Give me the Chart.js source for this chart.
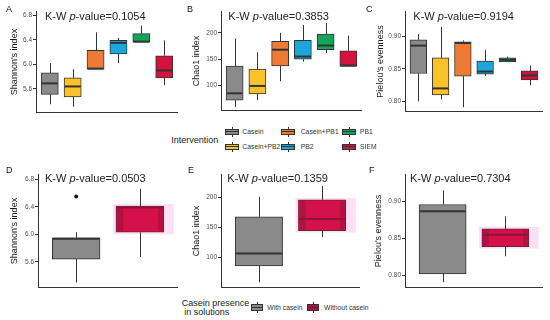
<!DOCTYPE html>
<html>
<head>
<meta charset="utf-8">
<script src="https://cdn.jsdelivr.net/npm/chart.js@4.4.0/dist/chart.umd.min.js"></script>
<style>
body { margin: 0; background: #fff; width: 550px; height: 320px; position: relative; overflow: hidden; font-family: "Liberation Sans", Arial, sans-serif; }
canvas { position: absolute; }
.tag { position: absolute; font-size: 9px; line-height: 10px; color: #111; }
.ttl { position: absolute; font-size: 11px; line-height: 12px; color: #222; white-space: nowrap; }
.leg { position: absolute; font-size: 9px; line-height: 10px; color: #222; white-space: nowrap; }
.lab { position: absolute; font-size: 6.8px; line-height: 8px; color: #333; white-space: nowrap; }
.key { position: absolute; }
.key i { position: absolute; display: block; }
</style>
</head>
<body>
<canvas id="chartA"></canvas>
<canvas id="chartB"></canvas>
<canvas id="chartC"></canvas>
<canvas id="chartD"></canvas>
<canvas id="chartE"></canvas>
<canvas id="chartF"></canvas>
<div id="overlay"></div>
<script>
// each box: [lower whisker, q1, median, q3, upper whisker]
var interventions = ['Casein', 'Casein+PB2', 'Casein+PB1', 'PB2', 'PB1', 'SIEM'];
var interventionColors = ['#8a8a8a', '#fcc22c', '#ef7a33', '#19a7dd', '#12a65b', '#d4113f'];
var shannonByIntervention = [
  [5.35, 5.51, 5.69, 5.86, 6.02],
  [5.31, 5.47, 5.64, 5.78, 5.92],
  [5.92, 5.92, 5.93, 6.23, 6.52],
  [6.02, 6.17, 6.35, 6.39, 6.43],
  [6.36, 6.36, 6.37, 6.50, 6.63],
  [5.66, 5.78, 5.90, 6.14, 6.39]
];
var chao1ByIntervention = [
  [59, 72, 85, 137, 189],
  [72, 84, 99, 131, 163],
  [108, 137, 168, 184, 200],
  [145, 150, 155, 186, 215],
  [162, 168, 176, 198, 219],
  [136, 136, 138, 166, 195]
];
var pielouByIntervention = [
  [0.800, 0.843, 0.886, 0.895, 0.904],
  [0.803, 0.810, 0.820, 0.867, 0.915],
  [0.791, 0.839, 0.890, 0.892, 0.894],
  [0.839, 0.842, 0.846, 0.862, 0.879],
  [0.861, 0.861, 0.864, 0.867, 0.869],
  [0.825, 0.833, 0.840, 0.847, 0.855]
];
var presence = ['With casein', 'Without casein'];
var presenceColors = ['#8a8a8a', '#d41149'];
var shannonByPresence = [
  [5.30, 5.64, 5.935, 5.95, 6.03],
  [5.67, 6.03, 6.39, 6.41, 6.66]
];
var shannonOutliers = [[1, 6.55]];
var chao1ByPresence = [
  [59, 86, 107, 168, 201],
  [134, 145, 164, 196, 219]
];
var pielouByPresence = [
  [0.791, 0.802, 0.887, 0.896, 0.915],
  [0.826, 0.839, 0.855, 0.863, 0.880]
];
var shannonTicks = [5.6, 6.0, 6.4, 6.8];
var chao1Ticks = [100, 150, 200];
var pielouTicks = [0.80, 0.85, 0.90];
var interventionPValues = ['0.1054', '0.3853', '0.9194'];
var presencePValues = ['0.0503', '0.1359', '0.7304'];

Chart.defaults.font.family = '"Liberation Sans", Arial, sans-serif';

var boxPlugin = {
  id: 'boxplot',
  beforeDatasetsDraw: function(chart, args, opts) {
    var ctx = chart.ctx, x = chart.scales.x, y = chart.scales.y;
    var bars = chart.getDatasetMeta(0).data;
    ctx.save();
    opts.stats.forEach(function(s, i) {
      var px = Math.round(x.getPixelForValue(i + 1)) + 0.5;
      if (i === opts.glow) {
        var b = bars[i];
        var top = y.getPixelForValue(s[3]), bot = y.getPixelForValue(s[1]);
        ctx.fillStyle = 'rgba(255,175,232,0.4)';
        ctx.fillRect(b.x - b.width / 2 - 3, top - 2, b.width + 13, bot - top + 4);
      }
      ctx.strokeStyle = '#333';
      ctx.lineWidth = 1;
      ctx.beginPath();
      ctx.moveTo(px, y.getPixelForValue(s[0]));
      ctx.lineTo(px, y.getPixelForValue(s[1]));
      ctx.moveTo(px, y.getPixelForValue(s[3]));
      ctx.lineTo(px, y.getPixelForValue(s[4]));
      ctx.stroke();
    });
    ctx.restore();
  },
  afterDatasetsDraw: function(chart, args, opts) {
    var ctx = chart.ctx, y = chart.scales.y;
    var bars = chart.getDatasetMeta(0).data;
    ctx.save();
    opts.stats.forEach(function(s, i) {
      var b = bars[i];
      var l = b.x - b.width / 2, r = b.x + b.width / 2;
      if (i === opts.glow) {
        var top = y.getPixelForValue(s[3]), bot = y.getPixelForValue(s[1]);
        ctx.fillStyle = 'rgba(90,20,45,0.28)';
        ctx.fillRect(l + 1, top + 1, b.width * 0.13, bot - top - 2);
        ctx.fillRect(r - 1 - b.width * 0.1, top + 1, b.width * 0.1, bot - top - 2);
      }
      ctx.strokeStyle = (opts.medianColors && opts.medianColors[i]) || '#333';
      ctx.lineWidth = 2;
      ctx.beginPath();
      var my = y.getPixelForValue(s[2]);
      ctx.moveTo(l + 0.5, my);
      ctx.lineTo(r - 0.5, my);
      ctx.stroke();
    });
    ctx.restore();
  }
};

// chart.js keeps ~5px above and below the plot area for the tick labels
var EDGE = 4.9;

function makePanel(id, p) {
  var el = document.getElementById(id);
  el.width = p.width;
  el.height = Math.round(p.height + 2 * EDGE);
  el.style.left = p.left + 'px';
  el.style.top = (p.top - EDGE) + 'px';
  var n = p.stats.length;
  var positions = p.stats.map(function(s, i) { return i + 1; });
  // ggplot-like: box = 0.75 of one category step, range 0.4 .. n + 0.6
  var thickness = 0.75 * (p.width - p.axisW) / (n + 0.2);
  var datasets = [{
    data: p.stats.map(function(s, i) { return { x: i + 1, y: [s[1], s[3]] }; }),
    backgroundColor: p.colors,
    borderColor: p.borders || '#333',
    borderWidth: 1,
    borderSkipped: false,
    barThickness: thickness,
    grouped: false
  }];
  if (p.outliers) {
    datasets.push({
      type: 'scatter',
      data: p.outliers.map(function(o) { return { x: o[0], y: o[1] }; }),
      pointRadius: 2,
      backgroundColor: '#111',
      borderWidth: 0
    });
  }
  return new Chart(el.getContext('2d'), {
    type: 'bar',
    data: { datasets: datasets },
    options: {
      responsive: false,
      animation: false,
      layout: { autoPadding: false, padding: 0 },
      plugins: {
        legend: { display: false },
        tooltip: { enabled: false },
        boxplot: { stats: p.stats, glow: p.glow, medianColors: p.medianColors }
      },
      scales: {
        x: {
          type: 'linear',
          offset: false,
          min: 0.4,
          max: n + 0.6,
          afterBuildTicks: function(s) { s.ticks = positions.map(function(v) { return { value: v }; }); },
          afterFit: function(s) { s.height = 0; },
          grid: { display: false, offset: false },
          ticks: { display: false },
          border: { color: '#333', width: 1 }
        },
        y: {
          min: p.ymin,
          max: p.ymax,
          afterBuildTicks: function(s) { s.ticks = p.ticks.map(function(v) { return { value: v }; }); },
          afterFit: function(s) { s.width = p.axisW; },
          grid: { display: true, drawOnChartArea: false, drawTicks: true, tickLength: 3, color: '#333' },
          border: { color: '#333', width: 1 },
          ticks: {
            padding: 1,
            color: '#4d4d4d',
            font: { size: 6.5 },
            callback: function(v) { return Number(v).toFixed(p.dec); }
          },
          title: { display: true, text: p.title, color: '#1a1a1a', font: { size: 9 }, padding: { top: p.titlePad, bottom: 0 } }
        }
      }
    },
    plugins: [boxPlugin]
  });
}

makePanel('chartA', { left: 0, top: 12, width: 178, height: 100, axisW: 36, ymin: 5.222, ymax: 6.854,
  ticks: shannonTicks, dec: 1, title: "Shannon's index", titlePad: 9.6,
  stats: shannonByIntervention, colors: interventionColors });
makePanel('chartB', { left: 180, top: 12, width: 182, height: 98, axisW: 41, ymin: 53, ymax: 240,
  ticks: chao1Ticks, dec: 0, title: 'Chao1 index', titlePad: 11.3,
  stats: chao1ByIntervention, colors: interventionColors });
makePanel('chartC', { left: 360, top: 12, width: 183, height: 99, axisW: 45, ymin: 0.785, ymax: 0.938,
  ticks: pielouTicks, dec: 2, title: "Pielou's evenness", titlePad: 15.3,
  stats: pielouByIntervention, colors: interventionColors });

var presenceMedians = ['#333', '#8b1535'];
var presenceBorders = ['#333', '#6b2336'];
makePanel('chartD', { left: 0, top: 175, width: 178, height: 112, axisW: 38, ymin: 5.233, ymax: 6.8625,
  ticks: shannonTicks, dec: 1, title: "Shannon's index", titlePad: 9.6,
  stats: shannonByPresence, colors: presenceColors, borders: presenceBorders, glow: 1,
  medianColors: presenceMedians, outliers: shannonOutliers });
makePanel('chartE', { left: 180, top: 175, width: 180, height: 112, axisW: 41, ymin: 51, ymax: 237.5,
  ticks: chao1Ticks, dec: 0, title: 'Chao1 index', titlePad: 11.3,
  stats: chao1ByPresence, colors: presenceColors, borders: presenceBorders, glow: 1,
  medianColors: presenceMedians });
makePanel('chartF', { left: 360, top: 175, width: 183, height: 112, axisW: 45, ymin: 0.7843, ymax: 0.936,
  ticks: pielouTicks, dec: 2, title: "Pielou's evenness", titlePad: 13.6,
  stats: pielouByPresence, colors: presenceColors, borders: presenceBorders, glow: 1,
  medianColors: presenceMedians });

// text overlay: panel tags, K-W titles, legends
var overlay = document.getElementById('overlay');
function addText(cls, html, x, y) {
  var d = document.createElement('div');
  d.className = cls;
  d.innerHTML = html;
  d.style.left = x + 'px';
  d.style.top = y + 'px';
  overlay.appendChild(d);
}
function addKey(x, y, w, h, fill, median) {
  var k = document.createElement('div');
  k.className = 'key';
  k.style.left = x + 'px';
  k.style.top = y + 'px';
  k.style.width = w + 'px';
  k.style.height = h + 'px';
  var bh = h - 4;
  k.innerHTML =
    '<i style="left:' + (Math.floor(w / 2)) + 'px;top:0;width:1px;height:' + h + 'px;background:#333"></i>' +
    '<i style="left:0;top:2px;width:' + (w - 2) + 'px;height:' + (bh - 2) + 'px;border:1px solid #333;background:' + fill + '"></i>' +
    '<i style="left:1px;top:' + (h / 2 - 0.5) + 'px;width:' + (w - 2) + 'px;height:1px;background:' + median + '"></i>';
  overlay.appendChild(k);
}

[['A', 6, 4], ['B', 187, 4], ['C', 366, 4], ['D', 6, 165], ['E', 188, 165], ['F', 369, 165]].forEach(function(t) {
  addText('tag', t[0], t[1], t[2]);
});
[45, 228.3, 413.3].forEach(function(x, i) {
  addText('ttl', 'K-W <i>p</i>-value=' + interventionPValues[i], x, 9.7);
});
[45, 227.3, 410].forEach(function(x, i) {
  addText('ttl', 'K-W <i>p</i>-value=' + presencePValues[i], x, 172.3);
});

addText('leg', 'Intervention', 171.3, 134.8);
var keyCols = [224.5, 280.5, 341.5];
var labCols = [242.3, 300.7, 360];
var keyRows = [126.7, 141.7];
interventions.forEach(function(name, i) {
  var c = Math.floor(i / 2), r = i % 2;
  addKey(keyCols[c], keyRows[r], 14, 10, interventionColors[i], '#333');
  addText('lab', name, labCols[c], keyRows[r] + 1);
});

addText('leg', 'Casein presence', 181.7, 298.3);
addText('leg', '&nbsp;in solutions', 181.7, 307.3);
addKey(250.7, 301.7, 12, 11, '#8a8a8a', '#333');
addText('lab', presence[0], 267.3, 303.5);
addKey(307.3, 301.7, 12, 11, '#a3193f', '#6b1530');
addText('lab', presence[1], 324, 303.5);
</script>
</body>
</html>
